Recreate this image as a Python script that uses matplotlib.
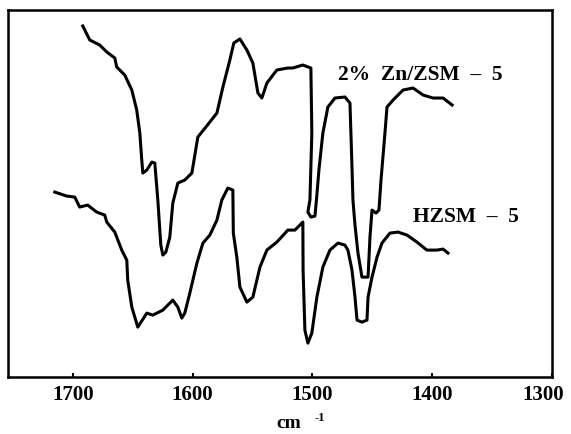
import matplotlib
matplotlib.use("Agg")
import matplotlib.pyplot as plt
from matplotlib.transforms import ScaledTranslation

plt.rcParams['font.family'] = ['Liberation Serif', 'DejaVu Serif']

# IR spectra, wavenumber (cm-1) vs transmittance (a.u.)
wn_zn = [1691.6, 1685.8, 1677.5, 1671.6, 1664.9, 1663.3, 1656.6, 1650.7, 1646.6, 1644.0,
         1642.4, 1641.5, 1638.2, 1634.0, 1631.5, 1629.0, 1626.5, 1624.8, 1622.3, 1619.0,
         1616.5, 1612.3, 1606.5, 1600.6, 1595.6, 1585.6, 1579.7, 1574.7, 1568.9, 1565.6,
         1560.5, 1554.7, 1549.7, 1545.5, 1542.2, 1538.0, 1529.7, 1520.5, 1516.4, 1508.0,
         1501.3, 1500.5, 1502.1, 1503.8, 1501.3, 1497.9, 1496.3, 1494.6, 1491.3, 1487.1,
         1481.2, 1472.9, 1468.7, 1467.0, 1466.2, 1464.5, 1462.0, 1458.7, 1453.6, 1452.0,
         1450.3, 1447.0, 1444.5, 1442.8, 1439.5, 1437.8, 1432.7, 1424.4, 1416.1, 1407.7,
         1399.4, 1391.0, 1383.5]
t_zn = [351, 337, 332, 325, 319, 310, 302, 287, 267, 244,
        217, 204, 207, 215, 214, 177, 132, 122, 125, 140,
        174, 194, 197, 204, 240, 255, 264, 290, 317, 334,
        338, 327, 314, 284, 279, 294, 307, 309, 309, 312,
        309, 244, 177, 165, 160, 161, 182, 207, 244, 270,
        279, 280, 274, 210, 177, 152, 124, 100, 100, 140,
        167, 164, 167, 197, 244, 270, 277, 287, 289, 282,
        279, 279, 272]

wn_h = [1715.0, 1705.0, 1698.3, 1694.2, 1687.5, 1680.0, 1673.3, 1671.6, 1664.9, 1659.1,
        1654.9, 1654.1, 1650.7, 1645.7, 1638.2, 1633.2, 1624.8, 1616.5, 1612.3, 1609.0,
        1606.5, 1602.3, 1596.4, 1591.4, 1585.6, 1579.7, 1575.6, 1570.6, 1566.4, 1566.0,
        1563.1, 1560.5, 1554.7, 1549.7, 1543.8, 1538.0, 1529.7, 1520.5, 1514.6, 1508.8,
        1508.0, 1507.8, 1506.3, 1503.8, 1500.5, 1496.3, 1491.3, 1485.4, 1478.7, 1472.9,
        1470.4, 1467.0, 1464.5, 1462.8, 1458.7, 1454.5, 1453.6, 1450.3, 1446.1, 1442.0,
        1435.3, 1428.6, 1421.1, 1412.8, 1404.5, 1396.2, 1391.0, 1386.9]
t_h = [185, 181, 180, 170, 172, 165, 162, 155, 145, 127,
       117, 97, 70, 50, 64, 62, 67, 77, 70, 59,
       64, 84, 114, 134, 142, 157, 177, 189, 187, 144,
       120, 90, 75, 80, 110, 127, 135, 147, 147, 154,
       155, 107, 47, 34, 44, 80, 110, 127, 134, 132,
       127, 107, 80, 57, 55, 57, 80, 100, 120, 134,
       144, 145, 142, 135, 127, 127, 128, 124]

ticks = [1700, 1600, 1500, 1400, 1300]

fig = plt.figure(figsize=(5.71, 4.34), dpi=100)
ax = fig.add_axes([0.014, 0.131, 0.953, 0.846])

ax.plot(wn_zn, t_zn, color='black', linewidth=2.2, solid_joinstyle='round')
ax.plot(wn_h, t_h, color='black', linewidth=2.2, solid_joinstyle='round')

ax.text(1479, 302, '2%  Zn/ZSM  –  5', fontsize=15.5, fontweight='bold', va='center')
ax.text(1416, 160, 'HZSM  –  5', fontsize=15.5, fontweight='bold', va='center')

ax.set_xlim(1754, 1300)
ax.set_ylim(0, 367)
ax.set_xticks(ticks)
ax.set_xticklabels([str(t) for t in ticks], fontsize=15, fontweight='bold')
ax.tick_params(axis='x', direction='in', length=3, width=1.5, pad=6)
ax.set_yticks([])
for s in ax.spines.values():
    s.set_linewidth(1.8)

# last label sits a little left of the frame edge, as in the original
last = ax.get_xticklabels()[-1]
last.set_transform(last.get_transform() + ScaledTranslation(-0.09, 0, fig.dpi_scale_trans))

# axis unit: cm with a raised -1
fig.text(289 / 571, 1 - 428 / 434, 'cm', fontsize=14, fontweight='bold',
         ha='center', va='baseline')
fig.text(320 / 571, 1 - 421 / 434, '-1', fontsize=9, fontweight='bold',
         ha='center', va='baseline')

fig.savefig('out.png', dpi=100)
